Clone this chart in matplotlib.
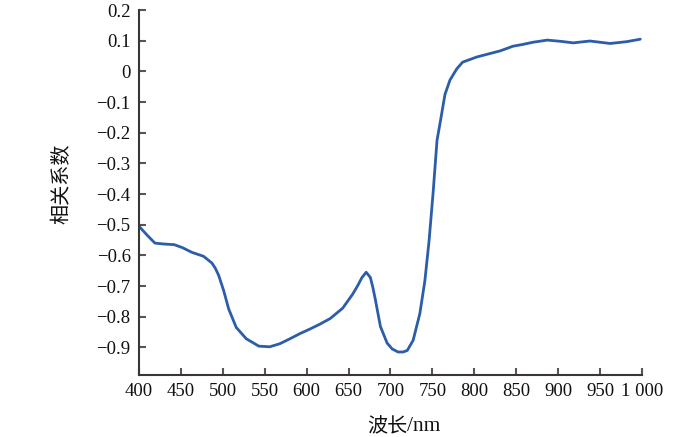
import matplotlib
matplotlib.use("Agg")
import matplotlib.pyplot as plt

# wavelength (nm) and correlation coefficient
wavelength = [400, 410, 419, 430, 442, 452, 463, 477, 487, 491, 495, 501, 507, 516,
              528, 543, 556, 568, 580, 592, 604, 616, 628, 643, 655, 661, 666, 671,
              676, 679, 682, 688, 696, 702, 709, 715, 720, 727, 735, 741, 746, 751,
              755.5, 760, 765, 771, 779, 786, 803, 817, 831, 846, 858, 870, 887, 903,
              918, 938, 950, 962, 982, 998]
corr = [-0.505, -0.535, -0.56, -0.563, -0.565, -0.575, -0.59, -0.603, -0.625, -0.642,
        -0.665, -0.715, -0.775, -0.835, -0.872, -0.896, -0.898, -0.888, -0.872,
        -0.855, -0.84, -0.824, -0.806, -0.772, -0.726, -0.698, -0.672, -0.655, -0.672,
        -0.705, -0.745, -0.832, -0.886, -0.905, -0.915, -0.915, -0.91, -0.877, -0.79,
        -0.683, -0.553, -0.39, -0.225, -0.155, -0.075, -0.028, 0.008, 0.03, 0.047,
        0.057, 0.067, 0.082, 0.088, 0.095, 0.102, 0.098, 0.093, 0.099, 0.095, 0.091,
        0.097, 0.105]

x_ticks = [400, 450, 500, 550, 600, 650, 700, 750, 800, 850, 900, 950, 1000]
x_tick_labels = ["400", "450", "500", "550", "600", "650", "700", "750", "800",
                 "850", "900", "950", "1 000"]
y_ticks = [0.2, 0.1, 0, -0.1, -0.2, -0.3, -0.4, -0.5, -0.6, -0.7, -0.8, -0.9]
y_tick_labels = ["0.2", "0.1", "0", "\u22120.1", "\u22120.2", "\u22120.3", "\u22120.4",
                 "\u22120.5", "\u22120.6", "\u22120.7", "\u22120.8", "\u22120.9"]

fig = plt.figure(figsize=(7, 4.37), dpi=100)
ax = fig.add_axes([0.1986, 0.1419, 0.7185, 0.8351])

ax.plot(wavelength, corr, color="#2b5da8", lw=2.0, solid_joinstyle="round",
        solid_capstyle="round")

ax.set_xlim(400, 1000)
ax.set_ylim(-0.99, 0.2)
ax.set_xticks(x_ticks)
ax.set_xticklabels(x_tick_labels)
ax.set_yticks(y_ticks)
ax.set_yticklabels(y_tick_labels)

for side in ("top", "right"):
    ax.spines[side].set_visible(False)
for side in ("left", "bottom"):
    ax.spines[side].set_color("#3b3634")
    ax.spines[side].set_linewidth(1.5)

ax.tick_params(direction="in", length=5, width=1.5, color="#5a5452",
               labelsize=13.5, pad=6)
for lab in ax.get_xticklabels() + ax.get_yticklabels():
    lab.set_family("Liberation Serif")
    lab.set_color("#111111")

# x label: Chinese part in CJK font, unit in serif
ax.text(0.533, -0.142, "波长", transform=ax.transAxes, ha="right", va="center",
        family=["Noto Sans CJK SC", "DejaVu Sans"], fontsize=14.5, color="#111111")
ax.text(0.533, -0.142, "/nm", transform=ax.transAxes, ha="left", va="center",
        family="Liberation Serif", fontsize=15.5, color="#111111")

ax.set_ylabel("相关系数", family=["Noto Sans CJK SC", "DejaVu Sans"],
              fontsize=14.5, color="#111111")
ax.yaxis.set_label_coords(-0.133, 0.523)

fig.savefig("out.png", dpi=100)
